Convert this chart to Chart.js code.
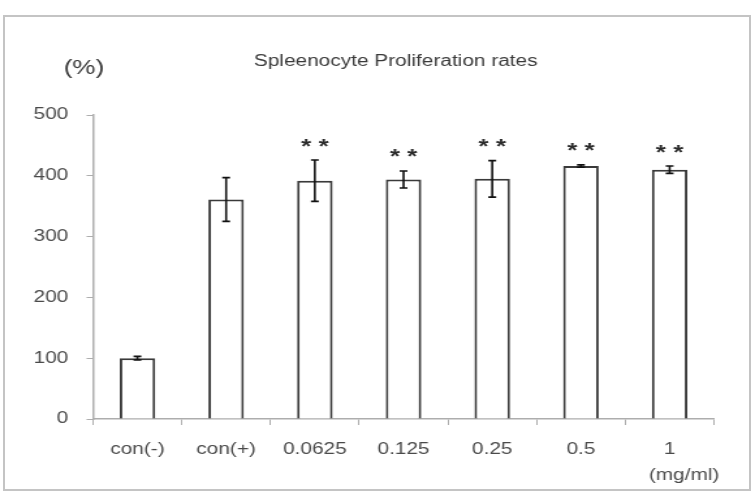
<!DOCTYPE html>
<html>
<head>
<meta charset="utf-8">
<script src="https://cdn.jsdelivr.net/npm/chart.js@4/dist/chart.umd.min.js"></script>
<style>
  html, body { margin: 0; padding: 0; background: #fff; overflow: hidden; }
  #wrap { position: relative; width: 755px; height: 498px; }
  #frame {
    position: absolute; left: 3px; top: 15px; width: 748px; height: 476px;
    border: 2px solid #c4c4c4; box-sizing: border-box;
  }
  /* the source figure is stretched sideways, so the canvas is too */
  #stretch {
    position: absolute; left: 0; top: 0; width: 580px; height: 498px;
    transform: scaleX(1.3017); transform-origin: 0 0;
  }
</style>
</head>
<body>
<div id="wrap">
  <div id="frame"></div>
  <div id="stretch"><canvas id="chart" width="580" height="498"></canvas></div>
</div>
<script>
const categories = ['con(-)', 'con(+)', '0.0625', '0.125', '0.25', '0.5', '1'];
const rates = [100, 361, 392, 394, 395, 416, 410];
const errors = [3, 36, 34, 14, 30, 2, 6];
const marks = ['', '', '**', '**', '**', '**', '**'];
const yTicks = [0, 100, 200, 300, 400, 500];

const FONT = "'Liberation Sans', 'DejaVu Sans', sans-serif";
const TEXT = '#4a4a4a';
const AXIS = '#adadad';

// error bars and significance stars
const extras = {
    id: 'extras',
    afterDatasetsDraw(chart) {
        const ctx = chart.ctx;
        const meta = chart.getDatasetMeta(0);
        const y = chart.scales.y;
        ctx.save();
        meta.data.forEach((bar, i) => {
            const x = bar.x;
            const top = y.getPixelForValue(rates[i] + errors[i]);
            const bot = y.getPixelForValue(rates[i] - errors[i]);
            ctx.strokeStyle = '#111';
            ctx.lineWidth = 1.6;
            ctx.beginPath();
            ctx.moveTo(x, top); ctx.lineTo(x, bot);
            ctx.moveTo(x - 3, top); ctx.lineTo(x + 3, top);
            ctx.moveTo(x - 3, bot); ctx.lineTo(x + 3, bot);
            ctx.stroke();
            if (marks[i]) {
                ctx.fillStyle = '#2b2b2b';
                ctx.font = 'bold 20px ' + FONT;
                ctx.textAlign = 'center';
                ctx.textBaseline = 'middle';
                ctx.fillText(marks[i].split('').join(' '), x, top - 13);
            }
        });
        ctx.restore();
    }
};

// chart title and unit labels
const labels = {
    id: 'labels',
    afterDraw(chart) {
        const ctx = chart.ctx;
        ctx.save();
        ctx.fillStyle = '#3a3a3a';
        ctx.textBaseline = 'middle';
        ctx.textAlign = 'center';
        ctx.font = '16px ' + FONT;
        ctx.fillText('Spleenocyte Proliferation rates', 304, 62);
        ctx.font = '20px ' + FONT;
        ctx.fillText('(%)', 64.5, 68);
        ctx.fillStyle = TEXT;
        ctx.font = '16px ' + FONT;
        ctx.fillText('(mg/ml)', 525.5, 476);
        ctx.restore();
    }
};

new Chart(document.getElementById('chart'), {
    type: 'bar',
    data: {
        labels: categories,
        datasets: [{
            data: rates,
            backgroundColor: '#ffffff',
            borderColor: '#3a3a3a',
            borderWidth: 2,
            barPercentage: 0.4,
            categoryPercentage: 1.0
        }]
    },
    options: {
        responsive: false,
        animation: false,
        layout: { padding: { top: 115, right: 31.5, left: 0, bottom: 0 } },
        plugins: { legend: { display: false }, tooltip: { enabled: false }, title: { display: false } },
        scales: {
            x: {
                afterFit: s => { s.height = 79; },
                grid: { offset: true, drawOnChartArea: false, tickLength: 6, color: AXIS },
                border: { color: AXIS, width: 1.5 },
                ticks: { color: TEXT, font: { family: FONT, size: 16 }, padding: 15, maxRotation: 0 }
            },
            y: {
                min: 0,
                max: 500,
                afterFit: s => { s.width = 71.5; },
                afterBuildTicks: s => { s.ticks = yTicks.map(v => ({ value: v })); },
                grid: { drawOnChartArea: false, tickLength: 5, color: AXIS },
                border: { color: AXIS, width: 1.5 },
                ticks: { color: TEXT, font: { family: FONT, size: 16 }, padding: 14 }
            }
        }
    },
    plugins: [extras, labels]
});
</script>
</body>
</html>
